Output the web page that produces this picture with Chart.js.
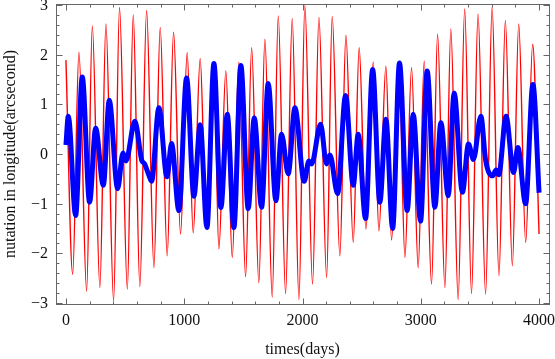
<!DOCTYPE html>
<html>
<head>
<meta charset="utf-8">
<script src="https://cdn.jsdelivr.net/npm/chart.js@4.4.1/dist/chart.umd.min.js"></script>
<style>
  html, body { margin: 0; padding: 0; background: #fff; }
  #wrap { width: 555px; height: 359px; }
</style>
</head>
<body>
<div id="wrap"><canvas id="nutation-chart" width="555" height="359"></canvas></div>
<script>
// Red series (thin): turning points, days / arcsec
const redDays = [0, 57, 110, 175, 223, 287, 338, 403, 453, 519, 569, 625, 682, 744, 797, 856, 910, 969,
    1025, 1076, 1135, 1186, 1251, 1293, 1352, 1406, 1462, 1519, 1570, 1631, 1682, 1744, 1795, 1857,
    1913, 1970, 2020, 2085, 2139, 2204, 2251, 2316, 2367, 2429, 2479, 2536, 2598, 2646, 2705, 2753,
    2815, 2866, 2922, 2978, 3029, 3091, 3142, 3204, 3254, 3316, 3371, 3429, 3484, 3548, 3603, 3661,
    3715, 3774, 3828, 3887, 3946, 4000];
const redVals = [1.89, -2.42, 2.05, -2.76, 2.58, -2.69, 2.62, -2.96, 2.95, -2.72, 2.80, -2.67, 2.89, -2.29,
    2.55, -2.05, 2.45, -1.61, 2.04, -1.59, 1.92, -1.39, 1.85, -1.91, 1.67, -2.08, 1.85, -2.47, 2.14,
    -2.59, 2.31, -2.88, 2.78, -2.81, 2.73, -2.93, 2.99, -2.62, 2.75, -2.49, 2.77, -2.05, 2.39, -1.78,
    2.14, -1.51, 1.85, -1.55, 1.77, -1.73, 1.85, -2.08, 1.74, -2.29, 1.87, -2.62, 2.41, -2.69, 2.52,
    -2.93, 2.92, -2.81, 2.82, -2.82, 2.96, -2.45, 2.69, -2.25, 2.62, -1.78, 2.21, -1.61];

// Blue series (thick)
const blueDays = [0, 20, 82, 138, 200, 251, 316, 366, 437, 482, 507, 583, 640, 665, 700, 724, 786, 854,
    893, 955, 1020, 1082, 1135, 1192, 1251, 1310, 1364, 1420, 1479, 1541, 1592, 1654, 1710, 1775,
    1823, 1879, 1936, 2014, 2054, 2077, 2153, 2203, 2232, 2297, 2364, 2429, 2471, 2533, 2593, 2654,
    2705, 2762, 2820, 2885, 2936, 2998, 3054, 3119, 3170, 3232, 3282, 3352, 3403, 3445, 3508, 3548,
    3608, 3636, 3659, 3721, 3784, 3821, 3886, 3948, 4000];
const blueVals = [0.18, 0.76, -1.24, 1.55, -0.97, 0.52, -0.63, 1.08, -0.70, 0.02, -0.14, 0.66, -0.12,
    -0.20, -0.42, -0.55, 0.93, -0.46, 0.21, -1.14, 1.53, -0.85, 0.59, -1.48, 1.82, -1.08, 0.80, -1.48,
    1.78, -1.10, 0.73, -1.07, 1.42, -0.94, 0.40, -0.40, 0.93, -0.55, -0.14, -0.20, 0.60, -0.20, -0.02,
    -0.80, 1.18, -0.63, 0.40, -1.30, 1.70, -0.97, 0.70, -1.50, 1.83, -1.14, 0.80, -1.35, 1.67, -1.07,
    0.63, -0.84, 1.23, -0.77, 0.20, -0.11, 0.76, -0.12, -0.44, -0.32, -0.42, 0.76, -0.37, 0.13, -1.0,
    1.40, -0.78];

const xTickLabels = [0, 1000, 2000, 3000, 4000];
const yTickLabels = [-3, -2, -1, 0, 1, 2, 3];

const FONT = '"Liberation Serif", "Times New Roman", serif';

function toPoints(xs, ys) {
    return xs.map((d, i) => ({ x: d, y: ys[i] }));
}

// Mathematica-style frame: box with inward ticks on all four sides
const frameTicks = {
    id: 'frameTicks',
    afterDraw(chart) {
        const ctx = chart.ctx;
        const a = chart.chartArea;
        const xs = chart.scales.x;
        const ys = chart.scales.y;
        const L = Math.round(a.left) + 0.5, R = Math.round(a.right) + 0.5;
        const T = Math.round(a.top) + 0.5, B = Math.round(a.bottom) + 0.5;

        ctx.save();
        ctx.strokeStyle = '#666';
        ctx.lineWidth = 1;
        ctx.strokeRect(L, T, R - L, B - T);

        ctx.beginPath();
        for (let d = 0; d <= 4000; d += 200) {
            const px = Math.round(xs.getPixelForValue(d)) + 0.5;
            const len = d % 1000 === 0 ? 6 : 3;
            ctx.moveTo(px, B); ctx.lineTo(px, B - len);
            ctx.moveTo(px, T); ctx.lineTo(px, T + len);
        }
        for (let k = -15; k <= 15; k++) {
            const v = k / 5;
            const py = Math.round(ys.getPixelForValue(v)) + 0.5;
            const len = k % 5 === 0 ? 6 : 3;
            ctx.moveTo(L, py); ctx.lineTo(L + len, py);
            ctx.moveTo(R, py); ctx.lineTo(R - len, py);
        }
        ctx.stroke();

        ctx.fillStyle = '#111';
        ctx.font = '16px ' + FONT;
        ctx.textAlign = 'center';
        ctx.textBaseline = 'alphabetic';
        xTickLabels.forEach(d => {
            ctx.fillText(String(d), xs.getPixelForValue(d), 325);
        });
        ctx.textAlign = 'right';
        yTickLabels.forEach(v => {
            const label = v < 0 ? '\u2212' + Math.abs(v) : String(v);
            ctx.fillText(label, 48, ys.getPixelForValue(v) + 5);
        });

        // axis titles
        ctx.textAlign = 'center';
        ctx.fillText('times(days)', (a.left + a.right) / 2, 354);
        ctx.translate(15, (a.top + a.bottom) / 2);
        ctx.rotate(-Math.PI / 2);
        ctx.fillText('nutation in longitude(arcsecond)', 0, 0);
        ctx.restore();
    }
};

const ctx = document.getElementById('nutation-chart').getContext('2d');
new Chart(ctx, {
    type: 'line',
    data: {
        datasets: [{
            label: 'red',
            data: toPoints(redDays, redVals),
            borderColor: '#ff0000',
            borderWidth: 1.4,
            order: 2
        }, {
            label: 'blue',
            data: toPoints(blueDays, blueVals),
            borderColor: '#0000ff',
            borderWidth: 5,
            borderJoinStyle: 'round',
            order: 1
        }]
    },
    options: {
        responsive: false,
        animation: false,
        devicePixelRatio: 1,
        elements: {
            point: { radius: 0 },
            line: { cubicInterpolationMode: 'monotone', fill: false }
        },
        layout: { padding: { left: 56, right: 6, top: 4, bottom: 55 } },
        plugins: { legend: { display: false }, tooltip: { enabled: false } },
        scales: {
            x: { type: 'linear', min: -84, max: 4084, display: false },
            y: { type: 'linear', min: -3.02, max: 3.02, display: false }
        }
    },
    plugins: [frameTicks]
});
</script>
</body>
</html>
